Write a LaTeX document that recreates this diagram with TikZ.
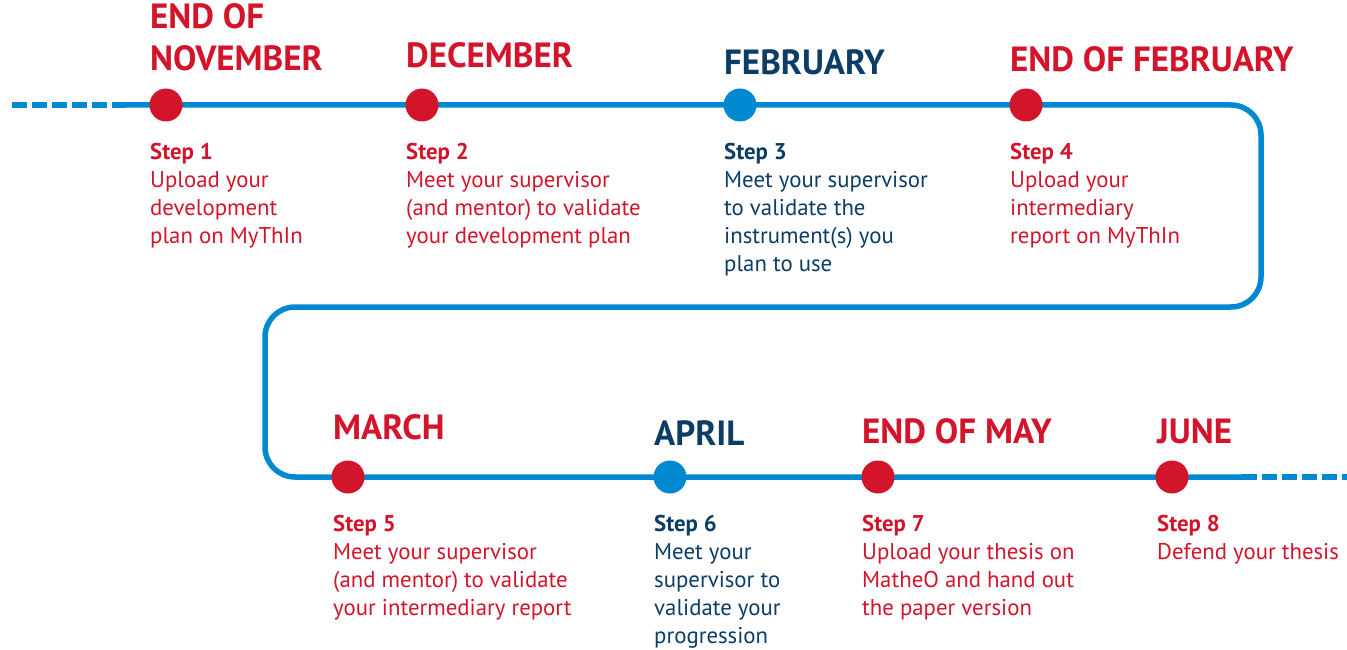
\documentclass[tikz,border=0pt]{standalone}
\usepackage{fontspec}
\setmainfont{PT Sans}
\usetikzlibrary{positioning}
\definecolor{stepred}{HTML}{D2152B}
\definecolor{trackblue}{HTML}{0088D1}
\definecolor{navy}{HTML}{0C3D66}
\tikzset{
  track/.style={draw=trackblue, line width=5.5pt, rounded corners=30pt},
  trackdash/.style={draw=trackblue, line width=5.5pt, dash pattern=on 15pt off 5pt},
  dot/.style={circle, inner sep=0pt, minimum size=33pt},
  date/.style={font=\fontsize{35}{42}\selectfont\bfseries, inner sep=0pt, align=left, anchor=south west},
  desc/.style={font=\fontsize{22.8}{28}\selectfont, inner sep=0pt, align=left, anchor=north west},
}

\begin{document}
\begin{tikzpicture}[x=1pt,y=-1pt]
  \useasboundingbox (0,0) rectangle (1347,650);

  % positions of the eight steps
  \coordinate (p1) at (166,105);
  \coordinate (p2) at (422,105);
  \coordinate (p3) at (740,105);
  \coordinate (p4) at (1026,105);
  \coordinate (p5) at (348,477);
  \coordinate (p6) at (670,477);
  \coordinate (p7) at (878,477);
  \coordinate (p8) at (1172,477);

  % corners of the track
  \coordinate (startL) at (12,105);
  \coordinate (solidL) at (126,105);
  \coordinate (cTR) at (1261,105);
  \coordinate (cBR) at (1261,307);
  \coordinate (cTL) at (265,307);
  \coordinate (cBL) at (265,477);
  \coordinate (solidR) at (1242,477);
  \coordinate (endR) at (1347,477);

  \draw[trackdash] (startL) -- (solidL);
  \draw[track] (solidL) -- (cTR) -- (cBR) -- (cTL) -- (cBL) -- (solidR);
  \draw[trackdash] (solidR) -- (endR);

  \node[dot, fill=stepred] (s1) at (p1) {};
  \node[dot, fill=stepred] (s2) at (p2) {};
  \node[dot, fill=trackblue] (s3) at (p3) {};
  \node[dot, fill=stepred] (s4) at (p4) {};
  \node[dot, fill=stepred] (s5) at (p5) {};
  \node[dot, fill=trackblue] (s6) at (p6) {};
  \node[dot, fill=stepred] (s7) at (p7) {};
  \node[dot, fill=stepred] (s8) at (p8) {};

  % dates
  \node[date, text=stepred] (d1) at (150,71) {END OF\\NOVEMBER};
  \node[date, text=stepred] (d2) at (406,68) {DECEMBER};
  \node[date, text=navy] (d3) at (724,75) {FEBRUARY};
  \node[date, text=stepred] (d4) at (1010,72) {END OF FEBRUARY};
  \node[date, text=stepred] (d5) at (333,440) {MARCH};
  \node[date, text=navy] (d6) at (654,446) {APRIL};
  \node[date, text=stepred] (d7) at (862,444) {END OF MAY};
  \node[date, text=stepred] (d8) at (1157,444) {JUNE};

  % steps
  \node[desc, text=stepred] (t1) at (150,143) {\textbf{Step 1}\\Upload your\\development\\plan on MyThIn};
  \node[desc, text=stepred] (t2) at (406,143) {\textbf{Step 2}\\Meet your supervisor\\(and mentor) to validate\\your development plan};
  \node[desc, text=navy] (t3) at (724,143) {\textbf{Step 3}\\Meet your supervisor\\to validate the\\instrument(s) you\\plan to use};
  \node[desc, text=stepred] (t4) at (1010,143) {\textbf{Step 4}\\Upload your\\intermediary\\report on MyThIn};
  \node[desc, text=stepred] (t5) at (333,515) {\textbf{Step 5}\\Meet your supervisor\\(and mentor) to validate\\your intermediary report};
  \node[desc, text=navy] (t6) at (654,515) {\textbf{Step 6}\\Meet your\\supervisor to\\validate your\\progression};
  \node[desc, text=stepred] (t7) at (862,515) {\textbf{Step 7}\\Upload your thesis on\\MatheO and hand out\\the paper version};
  \node[desc, text=stepred] (t8) at (1157,515) {\textbf{Step 8}\\Defend your thesis};
\end{tikzpicture}
\end{document}
